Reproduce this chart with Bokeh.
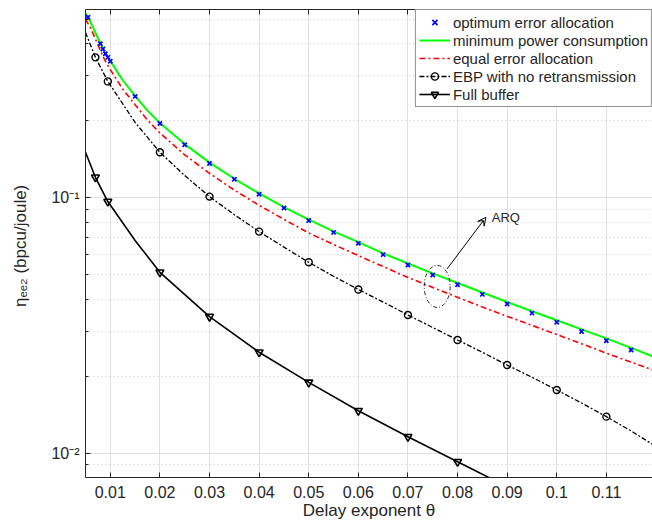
from bokeh.plotting import figure
from bokeh.models import (FixedTicker, LinearAxis, Label, Arrow, VeeHead, Range1d,
                          Legend, LegendItem)
from bokeh.embed import file_html
from bokeh.resources import INLINE

FONT = "Liberation Sans"
TXT = "#262626"

# ---------------- data ----------------
opt_x = [0.0055, 0.008, 0.0085, 0.009, 0.0095, 0.01, 0.015, 0.02, 0.025, 0.03, 0.035,
         0.04, 0.045, 0.05, 0.055, 0.06, 0.065, 0.07, 0.075, 0.08, 0.085, 0.09, 0.095,
         0.1, 0.105, 0.11, 0.115]
opt_y = [0.508, 0.400, 0.382, 0.366, 0.354, 0.342, 0.249, 0.195, 0.161, 0.136, 0.118,
         0.103, 0.0911, 0.0813, 0.0731, 0.0662, 0.0598, 0.0545, 0.0498, 0.0456, 0.0418,
         0.0383, 0.0353, 0.0325, 0.0299, 0.0275, 0.0253]

mp_x = [0.005, 0.0055, 0.006, 0.007, 0.008, 0.009, 0.01, 0.0125, 0.015, 0.0175, 0.02,
        0.025, 0.03, 0.035, 0.04, 0.045, 0.05, 0.055, 0.06, 0.065, 0.07, 0.075, 0.08,
        0.085, 0.09, 0.095, 0.1, 0.105, 0.11, 0.115, 0.12]
mp_y = [0.527, 0.509, 0.487, 0.442, 0.402, 0.368, 0.343, 0.288, 0.250, 0.219, 0.196,
        0.162, 0.137, 0.1185, 0.1038, 0.0918, 0.0820, 0.0738, 0.0669, 0.0605, 0.0552,
        0.0505, 0.0463, 0.0425, 0.0390, 0.0359, 0.0331, 0.0305, 0.0281, 0.0258, 0.0236]

ee_x = [0.005, 0.006, 0.007, 0.008, 0.009, 0.01, 0.0125, 0.015, 0.0175, 0.02, 0.025,
        0.03, 0.035, 0.04, 0.045, 0.05, 0.055, 0.06, 0.065, 0.07, 0.075, 0.08, 0.085,
        0.09, 0.095, 0.1, 0.105, 0.11, 0.115, 0.12]
ee_y = [0.500, 0.462, 0.418, 0.376, 0.342, 0.317, 0.266, 0.231, 0.201, 0.179, 0.147,
        0.1245, 0.107, 0.0933, 0.0822, 0.0727, 0.0655, 0.0593, 0.0537, 0.0487, 0.0445,
        0.0407, 0.0373, 0.0343, 0.0316, 0.0291, 0.0268, 0.0246, 0.0227, 0.0209]

ebp_x = [0.005, 0.007, 0.0095, 0.015, 0.02, 0.025, 0.03, 0.035, 0.04, 0.045, 0.05,
         0.055, 0.06, 0.065, 0.07, 0.075, 0.08, 0.085, 0.09, 0.095, 0.1, 0.105, 0.11,
         0.115, 0.12]
ebp_y = [0.443, 0.354, 0.285, 0.197, 0.1504, 0.122, 0.1009, 0.0857, 0.0736, 0.0640,
         0.0558, 0.0492, 0.0437, 0.0390, 0.0347, 0.0310, 0.0277, 0.0248, 0.0221, 0.0198,
         0.01765, 0.0157, 0.01388, 0.0122, 0.0106]
ebp_marker_x = [0.007, 0.0095, 0.02, 0.03, 0.04, 0.05, 0.06, 0.07, 0.08, 0.09, 0.1, 0.11]

fb_x = [0.005, 0.007, 0.0095, 0.015, 0.02, 0.03, 0.04, 0.05, 0.06, 0.07, 0.08, 0.09]
fb_y = [0.1504, 0.1201, 0.0965, 0.0679, 0.0510, 0.0342, 0.0248, 0.0189, 0.01464,
        0.01158, 0.00924, 0.00738]
fb_marker_x = [0.007, 0.0095, 0.02, 0.03, 0.04, 0.05, 0.06, 0.07, 0.08]

x_ticks = [0.01, 0.02, 0.03, 0.04, 0.05, 0.06, 0.07, 0.08, 0.09, 0.1, 0.11]
x_tick_labels = ["0.01", "0.02", "0.03", "0.04", "0.05", "0.06", "0.07", "0.08",
                 "0.09", "0.1", "0.11"]
y_ticks = [0.01, 0.1]
y_tick_labels = ["10\u207b\u00b2", "10\u207b\u00b9"]
y_minor_ticks = [0.008, 0.009, 0.02, 0.03, 0.04, 0.05, 0.06, 0.07, 0.08, 0.09,
                 0.2, 0.3, 0.4, 0.5]

# annotation (ARQ)
arq_x, arq_y = 0.0759, 0.0449
arq_arrow = (0.0779, 0.0526, 0.0857, 0.0837)
arq_text_pos = (0.0869, 0.0837)

ebp_lookup = dict(zip(ebp_x, ebp_y))
ebp_marker_y = [ebp_lookup[v] for v in ebp_marker_x]
fb_lookup = dict(zip(fb_x, fb_y))
fb_marker_y = [fb_lookup[v] for v in fb_marker_x]

# ---------------- figure ----------------
p = figure(width=652, height=524, y_axis_type="log",
           x_range=Range1d(0.005, 0.1193), y_range=Range1d(0.00802, 0.545),
           output_backend="svg", toolbar_location=None,
           min_border_left=85, min_border_right=0, min_border_top=9,
           min_border_bottom=47)
p.outline_line_color = None
p.background_fill_color = "white"
p.border_fill_color = "white"

xa = p.xaxis[0]
xa.ticker = FixedTicker(ticks=x_ticks)
xa.major_label_overrides = dict(zip(x_ticks, x_tick_labels))
xa.axis_label = "Delay exponent \u03b8"
ya = p.yaxis[0]
ya.ticker = FixedTicker(ticks=y_ticks, minor_ticks=y_minor_ticks)
ya.major_label_overrides = dict(zip(y_ticks, y_tick_labels))
ya.axis_label = "\u03b7\u2091\u2091\u2082  (bpcu/joule)"

for ax in (xa, ya):
    ax.major_tick_in = 5
    ax.major_tick_out = 0
    ax.axis_line_color = TXT
    ax.major_tick_line_color = TXT
    ax.minor_tick_line_color = TXT
    ax.major_label_text_font = FONT
    ax.major_label_text_font_size = "16px"
    ax.major_label_text_color = TXT
    ax.axis_label_text_font = FONT
    ax.axis_label_text_font_size = "17px"
    ax.axis_label_text_font_style = "normal"
    ax.axis_label_text_color = TXT
xa.minor_tick_in = 0
xa.minor_tick_out = 0
ya.minor_tick_in = 3
ya.minor_tick_out = 0
xa.major_label_standoff = 8
xa.axis_label_standoff = 0
ya.major_label_standoff = 6
ya.axis_label_standoff = 18

top = LinearAxis(ticker=FixedTicker(ticks=x_ticks), major_label_text_font_size="1px",
                 major_label_text_alpha=0, major_label_text_color=None,
                 major_tick_in=5, major_tick_out=0, minor_tick_in=0, minor_tick_out=0,
                 major_label_standoff=0, axis_line_color=TXT, major_tick_line_color=TXT)
p.add_layout(top, "above")

p.xgrid.grid_line_color = "#e0e0e0"
p.ygrid.grid_line_color = "#e0e0e0"
p.ygrid.minor_grid_line_color = "#c8c8c8"
p.ygrid.minor_grid_line_dash = "1 3"

# ---------------- series ----------------
r_mp = p.line(mp_x, mp_y, line_color="#00ff00", line_width=2)
r_ee = p.line(ee_x, ee_y, line_color="#ff0000", line_width=1.6, line_dash="6 3 2 3")
r_ebp = p.line(ebp_x, ebp_y, line_color="black", line_width=1.3, line_dash="5 2 2 2")
r_ebp_m = p.scatter(ebp_marker_x, ebp_marker_y, marker="circle", size=7,
                    line_color="black", fill_color=None, line_width=1.4)
r_fb = p.line(fb_x, fb_y, line_color="black", line_width=1.6)
r_fb_m = p.scatter(fb_marker_x, fb_marker_y, marker="inverted_triangle", size=8,
                   line_color="black", fill_color=None, line_width=1.6)
r_opt = p.scatter(opt_x, opt_y, marker="x", size=6, line_color="#0000ff", line_width=1.7)

legend = Legend(items=[
    LegendItem(label="optimum error allocation", renderers=[r_opt]),
    LegendItem(label="minimum power consumption", renderers=[r_mp]),
    LegendItem(label="equal error allocation", renderers=[r_ee]),
    LegendItem(label="EBP with no retransmission", renderers=[r_ebp, r_ebp_m]),
    LegendItem(label="Full buffer", renderers=[r_fb, r_fb_m]),
], location="top_right")
legend.margin = 0
legend.padding = 3
legend.spacing = 0
legend.label_height = 18
legend.glyph_height = 18
legend.glyph_width = 31
legend.label_standoff = 3
legend.label_text_font = FONT
legend.label_text_font_size = "15px"
legend.label_text_color = TXT
legend.border_line_color = TXT
legend.border_line_width = 1
legend.background_fill_alpha = 1
p.add_layout(legend)

# ---------------- ARQ annotation ----------------
p.ellipse(x=[arq_x], y=[arq_y], width=26, height=42, width_units="screen",
          height_units="screen", fill_color=None, line_color=TXT, line_width=1,
          line_dash="4 2 1 2")
p.add_layout(Arrow(end=VeeHead(size=8, line_color="black", line_width=1, fill_color=None),
                   x_start=arq_arrow[0], y_start=arq_arrow[1],
                   x_end=arq_arrow[2], y_end=arq_arrow[3],
                   line_color="black", line_width=1))
p.add_layout(Label(x=arq_text_pos[0], y=arq_text_pos[1], text="ARQ", text_font=FONT,
                   text_font_size="13px", text_baseline="middle", text_color=TXT))

open("out.html", "w").write(file_html(p, INLINE))
